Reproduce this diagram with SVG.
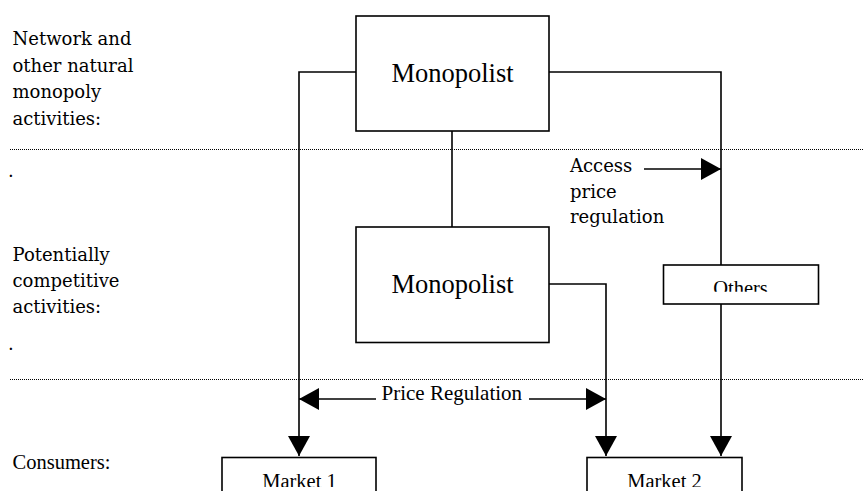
<svg xmlns="http://www.w3.org/2000/svg" width="863" height="491" viewBox="0 0 863 491">
<style>
.box{fill:#fff;stroke:#000;stroke-width:1.6}
.conn{fill:none;stroke:#000;stroke-width:1.6}
.dot{stroke:#000;stroke-width:1.2;stroke-dasharray:1 1}
.lbl{font-family:"DejaVu Serif",serif;font-size:18px;fill:#000}
.tms{font-family:"Liberation Serif","Times New Roman",serif;fill:#000}
</style>
<defs>
<marker id="ah" markerUnits="userSpaceOnUse" markerWidth="20" markerHeight="22" viewBox="0 0 20 22" refX="20" refY="11" orient="auto">
<path d="M0,0 L20,11 L0,22 z" fill="#000"/>
</marker>
<clipPath id="clipOthers"><rect x="663" y="265" width="156" height="26.7"/></clipPath>
<clipPath id="clipMarket"><rect x="0" y="457" width="863" height="30"/></clipPath>
</defs>

<g id="bands">
<line class="dot" x1="10" y1="149.5" x2="863" y2="149.5"/>
<line class="dot" x1="10" y1="379.5" x2="863" y2="379.5"/>
</g>

<g id="labels">
<text class="lbl" x="12.5"><tspan x="12.5" y="45">Network and</tspan><tspan x="12.5" y="71.5">other natural</tspan><tspan x="12.5" y="98">monopoly</tspan><tspan x="12.5" y="124.5">activities:</tspan></text>
<text class="lbl" x="8" y="177">.</text>
<text class="lbl" x="12.5"><tspan x="12.5" y="260.5">Potentially</tspan><tspan x="12.5" y="286.5">competitive</tspan><tspan x="12.5" y="312.5">activities:</tspan></text>
<text class="lbl" x="8" y="350">.</text>
<text class="tms" x="12.5" y="468.5" font-size="20.5">Consumers:</text>
<text class="lbl"><tspan x="570" y="171.5">Access</tspan><tspan x="570" y="198">price</tspan><tspan x="570" y="222.5">regulation</tspan></text>
<text class="tms" x="381.5" y="400" font-size="21">Price Regulation</text>
</g>

<g id="connectors">
<path class="conn" d="M356,72 H299 V456" marker-end="url(#ah)"/>
<path class="conn" d="M549,72 H721 V265"/>
<path class="conn" d="M721,304 V456" marker-end="url(#ah)"/>
<path class="conn" d="M452,131 V227"/>
<path class="conn" d="M549,284 H606 V456" marker-end="url(#ah)"/>
<path class="conn" d="M644,169 H721" marker-end="url(#ah)"/>
<path class="conn" d="M376,399 H299" marker-end="url(#ah)"/>
<path class="conn" d="M529,399 H606" marker-end="url(#ah)"/>
</g>

<g id="monopolist-top">
<rect class="box" x="356" y="16" width="193" height="115"/>
<text class="tms" x="452.5" y="82" font-size="26.5" text-anchor="middle">Monopolist</text>
</g>

<g id="monopolist-bottom">
<rect class="box" x="356" y="227" width="193" height="115.5"/>
<text class="tms" x="452.5" y="293" font-size="26.5" text-anchor="middle">Monopolist</text>
</g>

<g id="others">
<rect class="box" x="663.5" y="265" width="155" height="39"/>
<text class="tms" x="740.5" y="295.3" font-size="20.5" text-anchor="middle" clip-path="url(#clipOthers)">Others</text>
</g>

<g id="market1">
<rect class="box" x="222" y="457.5" width="154" height="50"/>
<text class="tms" x="299.5" y="488" font-size="20.5" text-anchor="middle" clip-path="url(#clipMarket)">Market 1</text>
</g>

<g id="market2">
<rect class="box" x="587" y="457.5" width="155" height="50"/>
<text class="tms" x="664.5" y="488" font-size="20.5" text-anchor="middle" clip-path="url(#clipMarket)">Market 2</text>
</g>
</svg>
